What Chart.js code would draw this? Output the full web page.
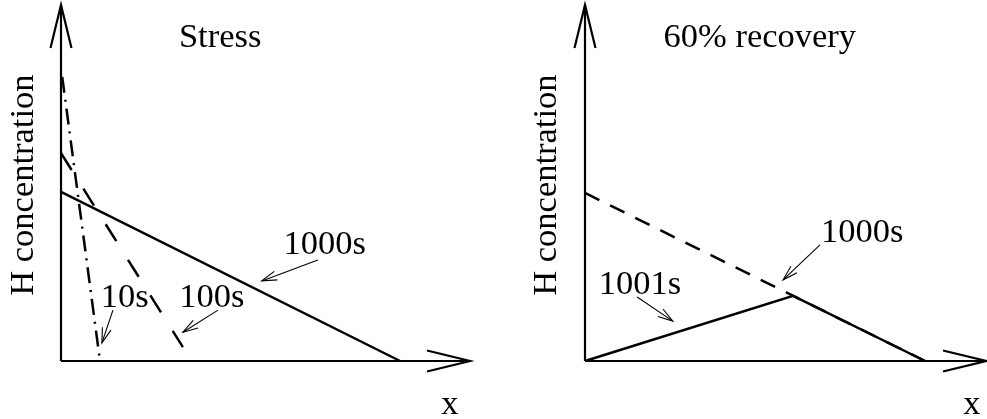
<!DOCTYPE html>
<html>
<head>
<meta charset="utf-8">
<script src="https://cdn.jsdelivr.net/npm/chart.js@4/dist/chart.umd.min.js"></script>
<style>
  body { margin: 0; background: #fff; }
  canvas { position: absolute; top: 0; }
  #stressChart { left: 0; }
  #recoveryChart { left: 493px; }
</style>
</head>
<body>
<canvas id="stressChart" width="493" height="419"></canvas>
<canvas id="recoveryChart" width="494" height="419"></canvas>
<script>
// Stress panel profiles (x, H concentration) in axis units 0..10
var stress1000sX = [0, 8.29];
var stress1000sY = [4.75, 0];
var stress100sX = [0, 2.98];
var stress100sY = [5.84, 0.39];
var stress10sX = [0.03, 0.95];
var stress10sY = [7.98, 0.03];

// 60% recovery panel profiles
var recov1000sX = [0, 8.48];
var recov1000sY = [4.72, 0];
var recov1001sX = [0, 5.19, 8.48];
var recov1001sY = [0, 1.83, 0];

// labels and pointer arrows
var stressLabels = ['1000s', '100s', '10s'];
var stressLabelX = [6.45, 3.69, 1.56];
var stressLabelY = [3.26, 1.77, 1.77];
var stressArrowFrom = [[6.28, 2.84], [3.84, 1.43], [1.27, 1.43]];
var stressArrowTo = [[4.91, 2.25], [2.98, 0.81], [1.00, 0.51]];

var recovLabels = ['1000s', '1001s'];
var recovLabelX = [6.91, 1.37];
var recovLabelY = [3.60, 2.13];
var recovArrowFrom = [[5.86, 3.26], [1.30, 1.80]];
var recovArrowTo = [[4.94, 2.28], [2.19, 1.12]];

var FONT = '34.5px "Liberation Serif", "Times New Roman", serif';

function toPoints(xs, ys) {
    return xs.map(function (x, i) { return { x: x, y: ys[i] }; });
}

function arrowHead(ctx, x0, y0, x1, y1, len, half) {
    var a = Math.atan2(y1 - y0, x1 - x0);
    ctx.beginPath();
    ctx.moveTo(x1 - len * Math.cos(a) + half * Math.sin(a), y1 - len * Math.sin(a) - half * Math.cos(a));
    ctx.lineTo(x1, y1);
    ctx.lineTo(x1 - len * Math.cos(a) - half * Math.sin(a), y1 - len * Math.sin(a) + half * Math.cos(a));
    ctx.stroke();
}

// draws axes with open arrowheads, titles, labels and pointer arrows
var sketchPlugin = {
    id: 'sketch',
    afterDatasetsDraw: function (chart, args, opts) {
        var ctx = chart.ctx;
        var xs = chart.scales.x, ys = chart.scales.y;
        var px = function (v) { return xs.getPixelForValue(v); };
        var py = function (v) { return ys.getPixelForValue(v); };
        ctx.save();
        ctx.strokeStyle = '#000';
        ctx.fillStyle = '#000';
        ctx.lineCap = 'butt';

        // axes
        ctx.lineWidth = 2.2;
        ctx.beginPath();
        ctx.moveTo(px(0), py(0));
        ctx.lineTo(px(0), py(10));
        ctx.moveTo(px(0), py(0));
        ctx.lineTo(px(10), py(0));
        ctx.stroke();
        arrowHead(ctx, px(0), py(0), px(0), py(10), 43, 10.5);
        arrowHead(ctx, px(0), py(0), px(10), py(0), 43, 10.5);

        // pointer arrows
        ctx.lineWidth = 1.1;
        opts.arrowFrom.forEach(function (f, i) {
            var t = opts.arrowTo[i];
            ctx.beginPath();
            ctx.moveTo(px(f[0]), py(f[1]));
            ctx.lineTo(px(t[0]), py(t[1]));
            ctx.stroke();
            arrowHead(ctx, px(f[0]), py(f[1]), px(t[0]), py(t[1]), 15, 4.5);
        });

        // text
        ctx.font = FONT;
        ctx.textAlign = 'center';
        ctx.textBaseline = 'middle';
        opts.labels.forEach(function (s, i) {
            ctx.fillText(s, px(opts.labelX[i]), py(opts.labelY[i]));
        });
        ctx.fillText(opts.title, px(opts.titleAt[0]), py(opts.titleAt[1]));
        ctx.fillText('x', px(opts.xLabelAt[0]), py(opts.xLabelAt[1]));
        ctx.translate(px(opts.yLabelAt[0]), py(opts.yLabelAt[1]));
        ctx.rotate(-Math.PI / 2);
        ctx.fillText('H concentration', 0, 0);
        ctx.restore();
    }
};

function makeChart(id, datasets, padding, sketch) {
    return new Chart(document.getElementById(id).getContext('2d'), {
        type: 'scatter',
        data: { datasets: datasets },
        plugins: [sketchPlugin],
        options: {
            responsive: false,
            animation: false,
            layout: { padding: padding },
            scales: {
                x: { type: 'linear', min: 0, max: 10, display: false },
                y: { type: 'linear', min: 0, max: 10, display: false }
            },
            plugins: {
                legend: { display: false },
                tooltip: { enabled: false },
                sketch: sketch
            }
        }
    });
}

function line(xs, ys, dash) {
    return {
        data: toPoints(xs, ys),
        showLine: true,
        pointRadius: 0,
        borderColor: '#000',
        borderWidth: 2.5,
        borderDash: dash,
        clip: false
    };
}

makeChart('stressChart', [
    line(stress1000sX, stress1000sY, []),
    line(stress100sX, stress100sY, [20, 22]),
    line(stress10sX, stress10sY, [16, 7, 2, 7])
], { left: 61, right: 23, top: 5, bottom: 58 }, {
    labels: stressLabels, labelX: stressLabelX, labelY: stressLabelY,
    arrowFrom: stressArrowFrom, arrowTo: stressArrowTo,
    title: 'Stress', titleAt: [3.89, 9.07],
    xLabelAt: [9.51, -1.24], yLabelAt: [-0.90, 4.94]
});

makeChart('recoveryChart', [
    line(recov1000sX, recov1000sY, [16, 12]),
    line(recov1001sX, recov1001sY, [])
], { left: 92, right: 1, top: 5, bottom: 58 }, {
    labels: recovLabels, labelX: recovLabelX, labelY: recovLabelY,
    arrowFrom: recovArrowFrom, arrowTo: recovArrowTo,
    title: '60% recovery', titleAt: [4.36, 9.07],
    xLabelAt: [9.65, -1.24], yLabelAt: [-0.95, 4.94]
});
</script>
</body>
</html>
